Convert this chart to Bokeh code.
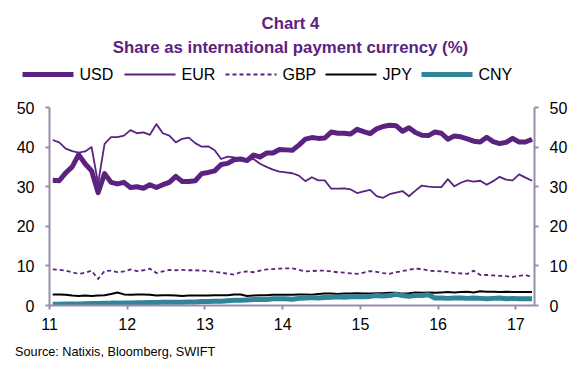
from bokeh.plotting import figure
from bokeh.models import LinearAxis, FixedTicker, Range1d
from bokeh.layouts import column
from bokeh.core.properties import value
from bokeh.embed import file_html
from bokeh.resources import INLINE

# ---- data (monthly, Jan 2011 .. Mar 2017, share in %) ----
usd = [31.6, 31.5, 33.5, 35.0, 38.1, 35.8, 34.0, 28.5, 33.3, 31.1, 30.7, 31.1,
       29.8, 30.0, 29.6, 30.5, 29.8, 30.5, 31.1, 32.6, 31.3, 31.3, 31.5, 33.3,
       33.6, 34.0, 35.6, 35.9, 36.8, 37.0, 36.6, 38.0, 37.5, 38.5, 38.5, 39.4,
       39.3, 39.2, 40.5, 42.0, 42.4, 42.2, 42.3, 43.8, 43.5, 43.5, 43.3, 44.5,
       43.9, 43.4, 44.6, 45.2, 45.5, 45.4, 44.0, 44.9, 43.7, 43.0, 42.9, 43.8,
       43.5, 42.0, 42.8, 42.6, 42.1, 41.5, 41.3, 42.5, 41.4, 40.9, 41.2, 42.2,
       41.3, 41.3, 42.0]
eur = [41.8, 41.2, 39.6, 39.0, 38.6, 38.9, 40.0, 30.8, 40.8, 42.5, 42.5, 42.9,
       44.3, 43.5, 43.7, 43.1, 45.8, 43.5, 42.9, 41.2, 42.1, 42.4, 41.0, 40.1,
       40.2, 39.2, 37.0, 37.6, 37.4, 37.0, 36.6, 37.0, 35.8, 35.0, 34.3, 33.8,
       33.6, 33.4, 32.8, 31.4, 32.4, 31.6, 31.6, 29.5, 29.5, 29.6, 29.3, 28.4,
       28.8, 29.2, 27.6, 27.2, 28.1, 28.5, 28.9, 27.6, 29.0, 30.3, 30.0, 29.9,
       29.9, 31.9, 30.1, 31.0, 31.6, 31.3, 31.5, 30.5, 31.4, 32.5, 31.8, 31.6,
       33.1, 32.3, 31.5]
gbp = [9.1, 9.0, 8.8, 8.4, 8.0, 8.3, 8.8, 6.7, 8.7, 8.8, 8.4, 8.6,
       9.1, 8.7, 8.9, 9.3, 8.2, 8.6, 9.0, 8.9, 9.0, 8.9, 8.9, 8.8,
       8.7, 8.5, 8.3, 8.0, 7.8, 8.4, 8.6, 8.4, 8.8, 9.1, 9.2, 9.3,
       9.4, 9.4, 9.0, 8.6, 8.7, 8.8, 8.8, 8.6, 8.4, 8.3, 8.1, 8.0,
       8.3, 8.7, 8.5, 8.2, 8.0, 8.4, 8.7, 9.0, 9.3, 9.2, 8.8, 8.7,
       8.6, 8.5, 8.2, 8.1, 8.0, 8.8, 7.7, 7.7, 7.6, 7.5, 7.4, 7.2,
       7.5, 7.7, 7.2]
jpy = [2.8, 2.8, 2.7, 2.5, 2.4, 2.5, 2.4, 2.5, 2.6, 2.9, 3.3, 2.8,
       2.7, 2.8, 2.8, 2.7, 2.5, 2.6, 2.6, 2.5, 2.4, 2.5, 2.5, 2.5,
       2.5, 2.6, 2.6, 2.6, 2.8, 2.8, 2.4, 2.5, 2.6, 2.6, 2.7, 2.7,
       2.7, 2.7, 2.8, 2.8, 2.7, 2.9, 3.0, 3.0, 2.9, 3.0, 3.0, 3.1,
       3.0, 3.0, 3.1, 3.1, 3.2, 3.2, 3.0, 3.1, 3.3, 3.2, 3.3, 3.2,
       3.3, 3.4, 3.3, 3.4, 3.5, 3.3, 3.6, 3.5, 3.5, 3.4, 3.5, 3.4,
       3.4, 3.4, 3.4]
cny = [0.3, 0.3, 0.35, 0.4, 0.4, 0.45, 0.5, 0.5, 0.55, 0.6, 0.6, 0.65,
       0.65, 0.7, 0.7, 0.75, 0.75, 0.8, 0.8, 0.85, 0.85, 0.9, 0.9, 1.0,
       1.0, 1.1, 1.1, 1.2, 1.3, 1.3, 1.4, 1.5, 1.6, 1.5, 1.7, 1.7,
       1.7, 1.6, 1.8, 1.9, 2.0, 1.9, 2.0, 2.1, 2.2, 2.1, 2.2, 2.2,
       2.2, 2.3, 2.5, 2.4, 2.5, 2.8, 2.5, 2.3, 2.5, 2.5, 2.7, 1.9,
       1.9, 1.8, 1.9, 1.9, 1.8, 1.9, 1.8, 1.7, 1.8, 1.9, 1.7, 1.8,
       1.7, 1.7, 1.7]
start_year = 11
x_ticks = [11, 12, 13, 14, 15, 16, 17]
y_ticks = [0, 10, 20, 30, 40, 50]
series_names = ["USD", "EUR", "GBP", "JPY", "CNY"]
title_lines = ["Chart 4", "Share as international payment currency (%)"]
source_text = "Source: Natixis, Bloomberg, SWIFT"

# mid-month positions, year as fraction (11 = 2011)
x = [start_year + (i + 0.5) / 12 for i in range(len(usd))]

PURPLE = "#5c2280"
TEAL = "#2f8599"
AXIS = "#9a8cab"
FONT = "Liberation Sans"
W = 577
H_HEAD, H_MAIN, H_FOOT = 95, 250, 30

styles = [dict(line_width=5, line_color=PURPLE),
          dict(line_width=1.8, line_color=PURPLE),
          dict(line_width=1.8, line_color=PURPLE, line_dash="4 3"),
          dict(line_width=2, line_color="black"),
          dict(line_width=5, line_color=TEAL)]

# ---------------- header: title + legend (pixel coordinates) ----------------
head = figure(width=W, height=H_HEAD, x_range=Range1d(0, W), y_range=Range1d(H_HEAD, 0),
              x_axis_type=None, y_axis_type=None, output_backend="svg",
              toolbar_location=None, min_border=0)
head.frame_align = False
head.outline_line_color = None
head.text(x=[290, 290], y=[23, 47], text=title_lines, text_align="center",
          text_baseline="middle", text_font=value(FONT), text_font_style="bold",
          text_font_size=value("16.8px"), text_color=PURPLE)

leg_x0 = [22, 124, 225, 325, 421]
leg_len = 51
leg_y = 74
for name, st, lx in zip(series_names, styles, leg_x0):
    head.line([lx, lx + leg_len], [leg_y, leg_y], **st)
    head.text(x=[lx + leg_len + 6], y=[leg_y], text=[name], text_align="left",
              text_baseline="middle", text_font=value(FONT),
              text_font_size=value("16px"), text_color="black")

# ---------------- main chart ----------------
X0, X1 = 11, 17.24
p = figure(width=W, height=H_MAIN, x_range=Range1d(X0, X1), y_range=Range1d(0, 50),
           output_backend="svg", toolbar_location=None,
           min_border_left=49, min_border_right=43, min_border_top=12, min_border_bottom=40)
p.frame_align = False
p.outline_line_color = None
p.xgrid.grid_line_color = None
p.ygrid.grid_line_color = None

right = LinearAxis()
p.add_layout(right, "right")

for ax in [p.xaxis[0], p.yaxis[0], right]:
    ax.axis_line_color = AXIS
    ax.axis_line_width = 2
    ax.major_tick_line_color = AXIS
    ax.major_tick_line_width = 2
    ax.major_tick_out = 4
    ax.major_tick_in = 0
    ax.minor_tick_line_color = None
    ax.major_label_text_font = FONT
    ax.major_label_text_font_size = "16px"
    ax.major_label_text_color = "black"

p.xaxis[0].ticker = FixedTicker(ticks=x_ticks)
p.xaxis[0].major_label_standoff = 8
p.yaxis[0].ticker = FixedTicker(ticks=y_ticks)
p.yaxis[0].major_label_standoff = 11
right.ticker = FixedTicker(ticks=y_ticks)
right.major_label_standoff = 11

for vals, st in zip([usd, eur, gbp, jpy, cny], styles):
    p.line(x, vals, line_join="round", **st)

# ---------------- footer: source ----------------
foot = figure(width=W, height=H_FOOT, x_range=Range1d(0, W), y_range=Range1d(H_FOOT, 0),
              x_axis_type=None, y_axis_type=None, output_backend="svg",
              toolbar_location=None, min_border=0)
foot.frame_align = False
foot.outline_line_color = None
foot.text(x=[14.6], y=[6], text=[source_text], text_align="left", text_baseline="middle",
          text_font=value(FONT), text_font_size=value("12.7px"), text_color="black")

layout = column(head, p, foot, spacing=0)
open("out.html", "w").write(file_html(layout, INLINE))
